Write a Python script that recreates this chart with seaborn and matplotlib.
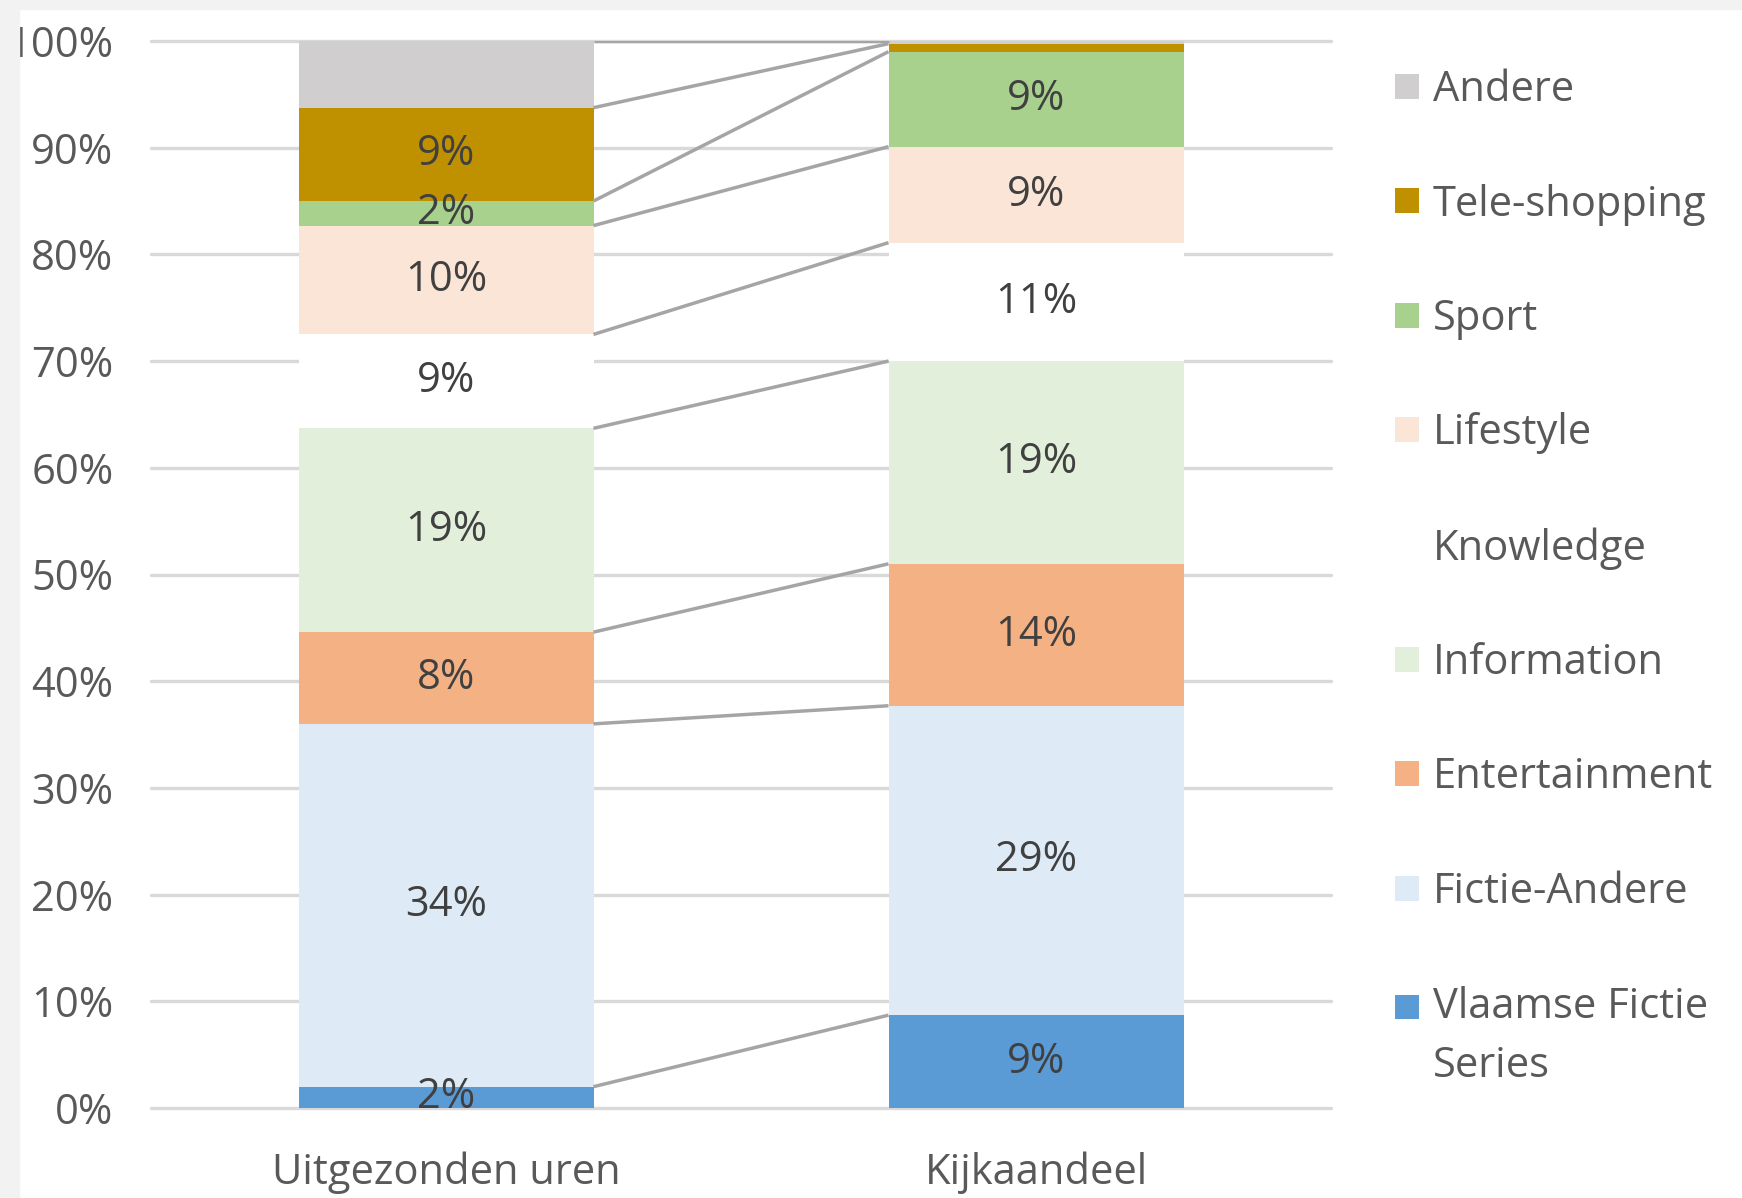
import matplotlib
matplotlib.use('Agg')
import matplotlib.pyplot as plt
from matplotlib.patches import Patch, Rectangle
from matplotlib.legend_handler import HandlerPatch
import numpy as np
import seaborn as sns

# ---------------------------------------------------------
# DATA
# ---------------------------------------------------------
categorieen = ["Uitgezonden uren", "Kijkaandeel"]

# series from bottom to top of the stack
genres = ["Vlaamse Fictie\nSeries", "Fictie-Andere", "Entertainment", "Information",
          "Knowledge", "Lifestyle", "Sport", "Tele-shopping", "Andere"]
kleuren = ["#5b9bd5", "#deebf7", "#f4b183", "#e2efda",
           "#ffffff", "#fbe5d6", "#a9d18e", "#bf9000", "#d0cece"]

uitgezonden = [2.0, 34.0, 8.6, 19.1, 8.8, 10.2, 2.3, 8.75, 6.25]
kijkaandeel = [8.7, 29.0, 13.3, 19.0, 11.1, 9.0, 8.9, 0.75, 0.25]

labels_uitgezonden = ["2%", "34%", "8%", "19%", "9%", "10%", "2%", "9%", ""]
labels_kijkaandeel = ["9%", "29%", "14%", "19%", "11%", "9%", "9%", "", ""]

y_ticks = [0, 10, 20, 30, 40, 50, 60, 70, 80, 90, 100]


class ShiftedPatchHandler(HandlerPatch):
    # moves the legend square up so it lines up with the first text line
    def __init__(self, dy):
        super().__init__()
        self.dy = dy

    def create_artists(self, legend, orig_handle, xdescent, ydescent,
                       width, height, fontsize, trans):
        p = Rectangle((-xdescent, -ydescent + self.dy), width, height)
        self.update_prop(p, orig_handle, legend)
        p.set_transform(trans)
        return [p]


# ---------------------------------------------------------
# FIGUUR
# ---------------------------------------------------------
sns.set_theme(style="white")
plt.rcParams['font.family'] = ['Open Sans', 'DejaVu Sans']

W, H = 1742, 1198
fig = plt.figure(figsize=(W / 100, H / 100), dpi=100)
fig.patch.set_facecolor("white")
ax = fig.add_axes([151 / W, 90 / H, 1180 / W, 1067 / H])
ax.set_facecolor("white")

cum_links = np.cumsum(uitgezonden)
cum_rechts = np.cumsum(kijkaandeel)

# stacked bars: draw cumulative totals from top series down
for i in range(len(genres) - 1, -1, -1):
    sns.barplot(x=categorieen, y=[cum_links[i], cum_rechts[i]], color=kleuren[i],
                saturation=1, width=0.5, linewidth=0, errorbar=None, ax=ax)

# series lines
for i in range(len(genres)):
    ax.plot([0.25, 0.75], [cum_links[i], cum_rechts[i]], color="#a5a5a5", lw=2.5,
            solid_capstyle="butt", zorder=3)

# data labels
for j, (waarden, labels) in enumerate([(uitgezonden, labels_uitgezonden),
                                        (kijkaandeel, labels_kijkaandeel)]):
    onder = 0
    for v, lab in zip(waarden, labels):
        if lab:
            ax.text(j, onder + v / 2, lab, ha="center", va="center",
                    fontsize=30, color="#404040", zorder=4)
        onder += v

ax.set_xlim(-0.5, 1.5)
ax.set_ylim(0, 100)
ax.set_yticks(y_ticks)
ax.set_yticklabels([f"{t}%" for t in y_ticks])
ax.yaxis.grid(True, color="#d9d9d9", lw=2.4)
for gl in ax.get_ygridlines():
    gl.set_clip_on(False)
ax.set_axisbelow(True)
for s in ax.spines.values():
    s.set_visible(False)
ax.tick_params(axis="y", length=0, pad=27, labelsize=30, labelcolor="#595959")
ax.tick_params(axis="x", length=0, pad=31, labelsize=30, labelcolor="#595959")
ax.set_xlabel("")
ax.set_ylabel("")

# legend (top to bottom)
handles = [Patch(facecolor=kleuren[i], edgecolor="none", label=genres[i])
           for i in range(len(genres) - 1, -1, -1)]
handler_map = {handles[-1]: ShiftedPatchHandler(22)}
leg = fig.legend(handles=handles, loc="upper left", bbox_to_anchor=(1395 / W, 1 - 69 / H),
                 frameon=False, fontsize=30, labelcolor="#595959", borderpad=0,
                 borderaxespad=0, handlelength=0.58, handleheight=0.53,
                 handletextpad=0.33, labelspacing=1.74, handler_map=handler_map)
for t in leg.get_texts():
    t.set_linespacing(1.55)

# slide background border
fig.add_artist(Rectangle((0, 0), 19 / W, 1, transform=fig.transFigure,
                         color="#f2f2f2", zorder=10))
fig.add_artist(Rectangle((0, 1 - 9 / H), 1, 9 / H, transform=fig.transFigure,
                         color="#f2f2f2", zorder=10))

fig.savefig("out.png", dpi=100, facecolor=fig.get_facecolor())
